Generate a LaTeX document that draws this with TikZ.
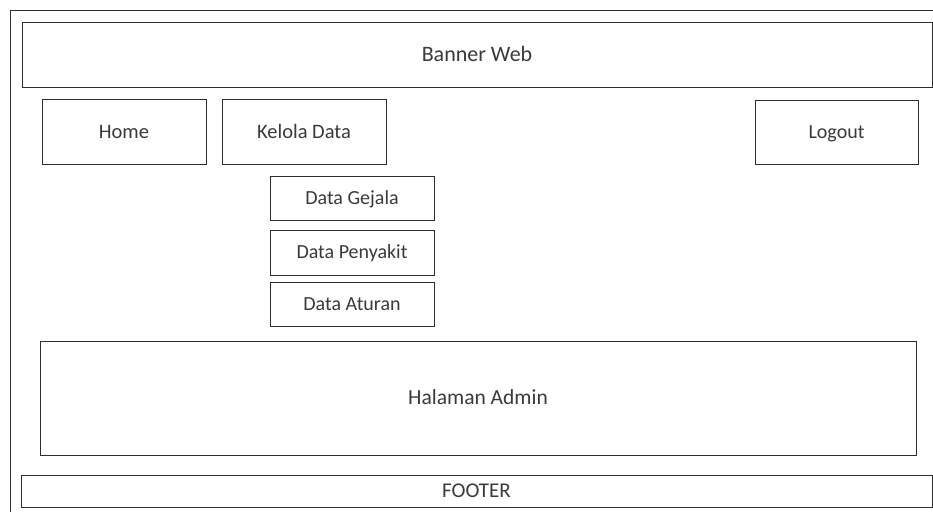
\documentclass[tikz,border=0pt]{standalone}
\usepackage{fontspec}
\setmainfont{Carlito}
\definecolor{ink}{HTML}{2E2E2E}
\definecolor{txt}{HTML}{3A3A3A}
\newcommand{\fsz}[1]{\fontsize{#1}{#1}\selectfont}
\begin{document}
\begin{tikzpicture}[x=1pt, y=-1pt,
  box/.style={draw=ink, line width=1pt, rectangle, inner sep=0pt, outer sep=0pt,
    text=txt, text height=13.2pt, text depth=0pt, font=\fsz{20.5}},
  menu/.style={box, font=\fsz{20}, text height=12.9pt}]
  \useasboundingbox[fill=white] (0,0) rectangle (933,512);
  % page frame, running off the right and bottom edges
  \draw[ink, line width=1pt] (933,10) -- (10,10) -- (10,512);
  % header
  \node[box, minimum width=910pt, minimum height=65pt, font=\fsz{22}, text height=14.2pt] (banner) at (477,54.5) {Banner Web};
  % navigation bar
  \node[box, minimum width=164pt, minimum height=65pt] (home) at (124,131.5) {Home};
  \node[box, minimum width=164pt, minimum height=65pt] (kelola) at (304,131.5) {Kelola Data};
  \node[box, minimum width=163pt, minimum height=64pt, font=\fsz{20}, text height=12.9pt] (logout) at (836.5,132) {Logout};
  % submenu of Kelola Data
  \node[menu, minimum width=164pt, minimum height=44pt] (gejala) at (352,198) {Data Gejala};
  \node[menu, minimum width=164pt, minimum height=45pt] (penyakit) at (352,252.5) {Data Penyakit};
  \node[menu, minimum width=164pt, minimum height=44pt] (aturan) at (352,304) {Data Aturan};
  % content area
  \node[box, minimum width=876pt, minimum height=114pt, font=\fsz{21.5}, text height=13.8pt] (admin) at (478,398) {Halaman Admin};
  % footer
  \node[box, minimum width=911pt, minimum height=32pt, font=\fsz{21}, text height=13.5pt] (footer) at (476.5,491) {FOOTER};
\end{tikzpicture}
\end{document}
